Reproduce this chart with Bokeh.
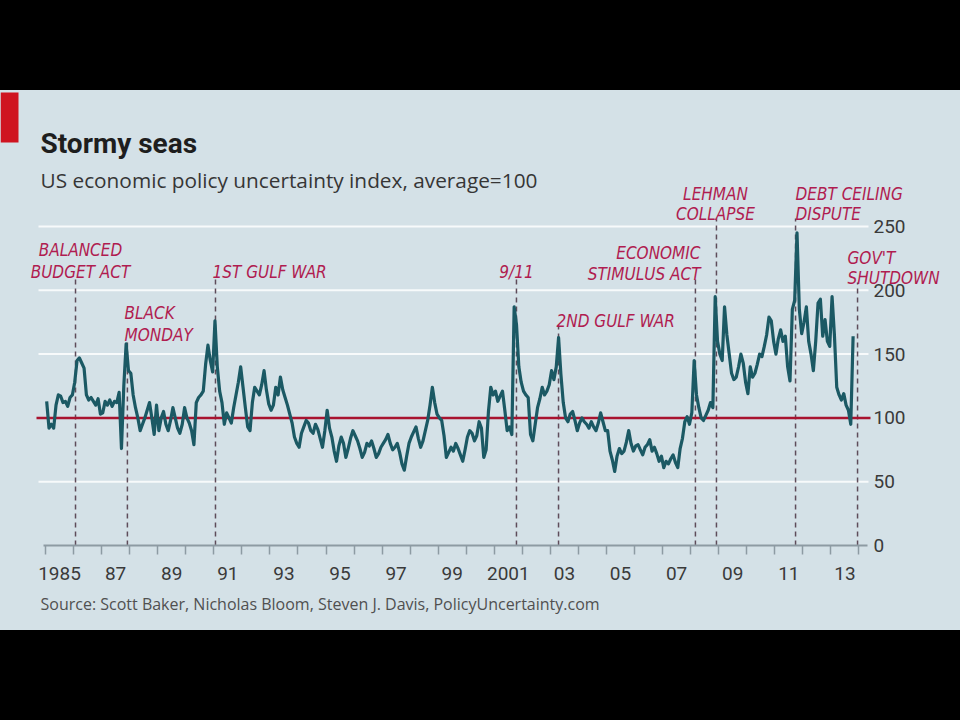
from bokeh.plotting import figure
from bokeh.models import Range1d, FixedTicker, Label, BoxAnnotation, Div, Title
from bokeh.layouts import column
from bokeh.embed import file_html
from bokeh.resources import INLINE

# ---------------- data ----------------
y1985 = [113, 92, 95, 92, 110, 118, 117, 112, 113, 109, 116, 118]
y1986 = [128, 145, 147, 143, 139, 118, 114, 116, 113, 110, 115, 103]
y1987 = [104, 113, 110, 114, 109, 113, 112, 120, 76, 125, 158, 137]
y1988 = [135, 118, 108, 100, 90, 95, 100, 106, 112, 100, 87, 110]
y1989 = [90, 100, 105, 95, 90, 98, 108, 100, 92, 88, 95, 108]
y1990 = [100, 96, 90, 79, 112, 116, 118, 121, 142, 157, 145, 136]
y1991 = [176, 140, 121, 112, 95, 104, 100, 96, 108, 118, 128, 140]
y1992 = [124, 108, 93, 90, 112, 124, 121, 118, 126, 137, 122, 111]
y1993 = [106, 110, 124, 118, 132, 122, 116, 110, 103, 96, 85, 80]
y1994 = [77, 88, 93, 98, 96, 90, 88, 95, 91, 84, 77, 90]
y1995 = [106, 92, 85, 74, 66, 78, 85, 80, 69, 76, 84, 90]
y1996 = [86, 82, 76, 69, 73, 80, 78, 82, 76, 69, 72, 77]
y1997 = [80, 83, 87, 80, 75, 77, 80, 73, 64, 59, 70, 80]
y1998 = [85, 89, 93, 84, 77, 82, 90, 98, 110, 124, 112, 103]
y1999 = [100, 98, 86, 69, 73, 77, 74, 80, 76, 71, 66, 75]
y2000 = [85, 90, 88, 82, 86, 97, 92, 69, 75, 105, 124, 118]
y2001 = [121, 113, 117, 121, 106, 90, 93, 87, 187, 173, 140, 128]
y2002 = [121, 118, 116, 87, 82, 95, 108, 115, 124, 118, 121, 126]
y2003 = [137, 130, 140, 163, 134, 112, 100, 97, 103, 105, 98, 90]
y2004 = [96, 100, 97, 95, 92, 97, 93, 90, 96, 104, 97, 90]
y2005 = [90, 74, 67, 58, 70, 76, 72, 74, 81, 90, 80, 74]
y2006 = [78, 79, 75, 71, 77, 79, 83, 74, 77, 72, 66, 70]
y2007 = [61, 66, 64, 68, 71, 65, 61, 76, 84, 97, 101, 95]
y2008 = [104, 145, 118, 108, 100, 98, 102, 106, 112, 108, 195, 160]
y2009 = [150, 145, 187, 165, 150, 135, 130, 132, 140, 150, 143, 128]
y2010 = [119, 140, 132, 135, 142, 150, 148, 156, 165, 179, 176, 160]
y2011 = [150, 162, 169, 160, 164, 140, 129, 185, 192, 245, 185, 166]
y2012 = [175, 187, 160, 150, 137, 160, 190, 193, 164, 177, 160, 156]
y2013 = [195, 165, 124, 118, 114, 119, 110, 106, 95, 164]

years = list(range(1985, 2014))
yearly = [y1985, y1986, y1987, y1988, y1989, y1990, y1991, y1992, y1993, y1994,
          y1995, y1996, y1997, y1998, y1999, y2000, y2001, y2002, y2003, y2004,
          y2005, y2006, y2007, y2008, y2009, y2010, y2011, y2012, y2013]

label_years = [1985, 1987, 1989, 1991, 1993, 1995, 1997, 1999, 2001, 2003, 2005,
               2007, 2009, 2011, 2013]
tick_labels = ["1985", "87", "89", "91", "93", "95", "97", "99", "2001", "03", "05",
               "07", "09", "11", "13"]
y_ticks = [0, 50, 100, 150, 200, 250]
grid_values = [50, 150, 200, 250]
average = 100

event_dates = [1986.07, 1987.92, 1991.06, 2001.79, 2003.29, 2008.17, 2008.92, 2011.74, 2013.95]
event_lines = [["BALANCED", "BUDGET ACT"], ["BLACK", "MONDAY"], ["1ST GULF WAR"], ["9/11"],
               ["2ND GULF WAR"], ["ECONOMIC", "STIMULUS ACT"], ["LEHMAN", "COLLAPSE"],
               ["DEBT CEILING", "DISPUTE"], ["GOV'T", "SHUTDOWN"]]

TITLE = "Stormy seas"
SUBTITLE = "US economic policy uncertainty index, average=100"
SOURCE = "Source: Scott Baker, Nicholas Bloom, Steven J. Davis, PolicyUncertainty.com"

# ---------------- build series ----------------
t, v = [], []
for yr, vals in zip(years, yearly):
    for m, val in enumerate(vals):
        t.append(yr + (m + 0.5) / 12.0)
        v.append(val)

# ---------------- geometry (image pixels; panel spans y 90..630) ----------------
PANEL_TOP = 90
FL, FR, FT, FB = 0, 940, 90, 545             # frame edges in image pixels
PXY = 28.05                                   # px per year
PXV = 1.276                                   # px per index unit
X0 = 1985 - (45 - FL) / PXY
X1 = X0 + (FR - FL) / PXY
Y1 = (FB - FT) / PXV

def dx(px):
    return X0 + (px - FL) / PXY

def dy(py):
    return (FB - py) / PXV

BG = "#d4e1e7"
TEAL = "#1b5964"
RED = "#a8132f"
ANN = "#b01c50"
GRAY_AX = "#8d9ba3"

p = figure(width=960, height=540, output_backend="svg", toolbar_location=None,
           x_range=Range1d(X0, X1), y_range=Range1d(0, Y1),
           y_axis_location="right",
           min_border_left=FL, min_border_right=960 - FR,
           min_border_top=FT - PANEL_TOP, min_border_bottom=630 - FB,
           styles={"background-color": BG})
p.background_fill_color = BG
p.border_fill_color = BG
p.outline_line_color = None
p.xgrid.grid_line_color = None
p.ygrid.grid_line_color = None

# x axis: labels centred in the year, ticks at year boundaries
xa = p.xaxis[0]
xa.ticker = FixedTicker(ticks=[y + 0.5 for y in label_years],
                        minor_ticks=list(range(1985, 2015)))
xa.major_label_overrides = {y + 0.5: lab for y, lab in zip(label_years, tick_labels)}
xa.bounds = (dx(43), dx(867))
xa.major_tick_in = 0
xa.major_tick_out = 0
xa.minor_tick_in = 0
xa.minor_tick_out = 9
xa.minor_tick_line_color = GRAY_AX
xa.minor_tick_line_width = 1.5
xa.axis_line_color = GRAY_AX
xa.axis_line_width = 2
xa.major_label_standoff = 12
xa.major_label_text_font = "Roboto"
xa.major_label_text_font_size = "19px"
xa.major_label_text_color = "#3a3a3a"

# y axis on the right, labels pulled back next to the chart area
ya = p.yaxis[0]
ya.ticker = FixedTicker(ticks=y_ticks)
ya.axis_line_color = None
ya.major_tick_line_color = None
ya.minor_tick_line_color = None
ya.major_tick_in = 0
ya.major_tick_out = 0
ya.major_label_standoff = 873 - FR
ya.major_label_text_font = "Roboto"
ya.major_label_text_font_size = "19px"
ya.major_label_text_color = "#3a3a3a"

# horizontal grid lines and the average line
p.segment(x0=[dx(38)] * len(grid_values), y0=grid_values,
          x1=[dx(868)] * len(grid_values), y1=grid_values,
          line_color="#f7fafb", line_width=2)

# event dashed lines (tops in image px)
line_tops_px = [276, 340, 277, 277, 325, 277, 218, 218, 282]
p.segment(x0=event_dates, y0=[0] * len(event_dates), x1=event_dates,
          y1=[dy(py) for py in line_tops_px],
          line_color="#5e4c5a", line_width=1.5, line_dash="5 4")

p.segment(x0=[dx(36)], y0=[average], x1=[dx(870)], y1=[average],
          line_color=RED, line_width=2.5)

p.line(t, v, line_color=TEAL, line_width=3.2, line_join="round")

# event labels: (align, x px, baseline px of each line)
label_layout = [("center", 80, [249, 271]), ("left", 124, [312, 334]), ("left", 212, [271]),
                ("center", 516, [271]), ("left", 556, [320]), ("right", 700, [252, 273]),
                ("center", 715, [193, 213]), ("left", 795, [193, 213]), ("left", 847, [257, 277])]
for lines, (align, px, bls) in zip(event_lines, label_layout):
    for txt, bl in zip(lines, bls):
        p.add_layout(Label(x=dx(px), y=dy(bl), text=txt, text_align=align,
                           text_baseline="alphabetic", text_color=ANN,
                           text_font="DejaVu Sans Condensed", text_font_style="italic",
                           text_font_size="17px"))

# title block
p.add_layout(Label(x=dx(40), y=dy(143), text=TITLE, text_font="Roboto",
                   text_font_style="bold", text_font_size="28px", text_color="#1e1e1e",
                   text_baseline="alphabetic"))
p.add_layout(Label(x=dx(40), y=dy(179), text=SUBTITLE,
                   text_font="Open Sans", text_font_size="20.8px", text_color="#363636",
                   text_baseline="alphabetic"))
p.add_layout(BoxAnnotation(left=dx(0), right=dx(18), top=dy(92), bottom=dy(142),
                           fill_color="#cf1420", fill_alpha=1, line_color=None))

p.add_layout(Title(text=SOURCE, align="left", offset=40, text_font="Open Sans",
                   text_font_size="16px", text_font_style="normal", text_color="#505050",
                   standoff=17), "below")

top = Div(text="", width=960, height=90, margin=0, styles={"background-color": "black"})
bot = Div(text="", width=960, height=90, margin=0, styles={"background-color": "black"})
layout = column(top, p, bot, spacing=0)

open("out.html", "w").write(file_html(layout, INLINE))
